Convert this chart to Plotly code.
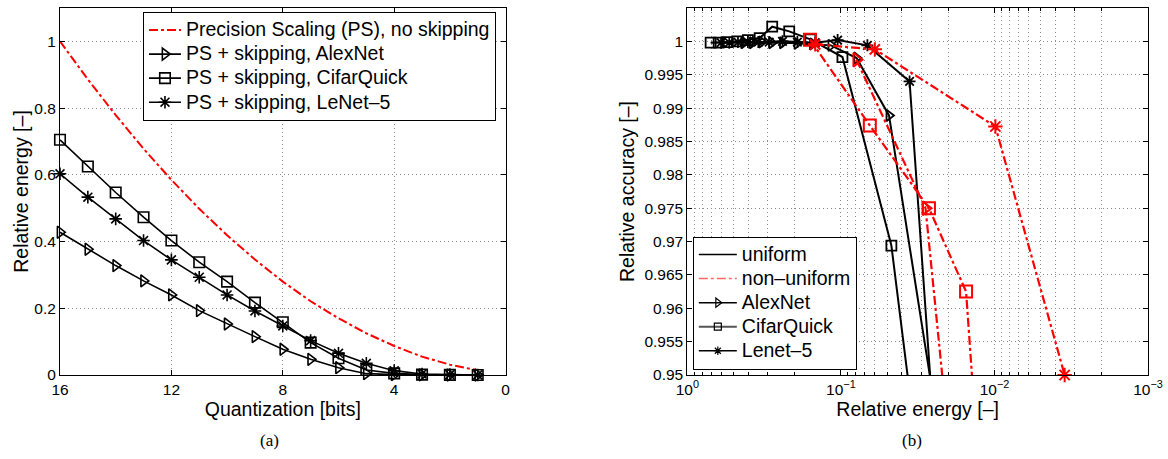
import plotly.graph_objects as go

# ---------------- data: panel (a) ----------------
bits = [16, 15, 14, 13, 12, 11, 10, 9, 8, 7, 6, 5, 4, 3, 2, 1]
ps_energy = [1.0, 0.886, 0.779, 0.678, 0.585, 0.498, 0.419, 0.346, 0.28, 0.221, 0.17, 0.125, 0.087, 0.055, 0.031, 0.014]
alexnet_energy = [0.428, 0.377, 0.328, 0.282, 0.24, 0.193, 0.153, 0.115, 0.077, 0.047, 0.022, 0.004, 0.001, 0.0003, 0.0001, 0.0001]
cifar_energy = [0.705, 0.625, 0.547, 0.473, 0.403, 0.338, 0.28, 0.217, 0.158, 0.097, 0.05, 0.015, 0.005, 0.001, 0.0003, 0.0001]
lenet_energy = [0.603, 0.533, 0.468, 0.403, 0.345, 0.293, 0.24, 0.192, 0.147, 0.103, 0.065, 0.035, 0.013, 0.003, 0.001, 0.0002]

# ---------------- data: panel (b) ----------------
alex_u_energy = [0.428, 0.377, 0.328, 0.282, 0.24, 0.193, 0.153, 0.116, 0.079, 0.0486, 0.025]
alex_u_acc = [0.9998, 0.9998, 0.9999, 0.9998, 0.9998, 0.9997, 0.9996, 0.9994, 0.9975, 0.9889, 0.9466]
cifar_u_energy = [0.705, 0.625, 0.547, 0.473, 0.403, 0.338, 0.28, 0.217, 0.158, 0.0977, 0.0469, 0.015]
cifar_u_acc = [0.9998, 0.9998, 0.9999, 1.0, 1.0002, 1.0005, 1.0022, 1.0015, 1.0003, 0.99765, 0.9694, 0.878]
lenet_u_energy = [0.603, 0.533, 0.468, 0.403, 0.345, 0.293, 0.24, 0.192, 0.147, 0.105, 0.0672, 0.0357, 0.012]
lenet_u_acc = [0.9998, 0.9998, 0.9999, 0.9999, 0.9999, 0.9999, 1.0, 0.9999, 0.9998, 1.0002, 0.9994, 0.994, 0.838]

alex_nu_energy = [0.0792, 0.0281, 0.02]
alex_nu_acc = [0.99725, 0.975, 0.941]
cifar_nu_energy = [0.159, 0.0648, 0.0267, 0.0153, 0.0135]
cifar_nu_acc = [1.00026, 0.9874, 0.975, 0.9625, 0.9447]
lenet_nu_energy = [0.147, 0.0601, 0.00986, 0.00349]
lenet_nu_acc = [0.99955, 0.9988, 0.98724, 0.95]

left_legend_names = ["Precision Scaling (PS), no skipping", "PS + skipping, AlexNet",
                     "PS + skipping, CifarQuick", "PS + skipping, LeNet\u20135"]
right_legend_names = ["uniform", "non\u2013uniform", "AlexNet", "CifarQuick", "Lenet\u20135"]

y_a_ticks = [0, 0.2, 0.4, 0.6, 0.8, 1.0]
y_a_labels = ["0", "0.2", "0.4", "0.6", "0.8", "1"]
x_a_ticks = [16, 12, 8, 4, 0]
y_b_ticks = [0.95, 0.955, 0.96, 0.965, 0.97, 0.975, 0.98, 0.985, 0.99, 0.995, 1.0]
y_b_labels = ["0.95", "0.955", "0.96", "0.965", "0.97", "0.975", "0.98", "0.985", "0.99", "0.995", "1"]
x_b_ticks = [1, 0.1, 0.01, 0.001]
x_b_labels = ["10<sup>0</sup>", "10<sup>\u22121</sup>", "10<sup>\u22122</sup>", "10<sup>\u22123</sup>"]

# ---------------- figure ----------------
FONT = "Liberation Sans, Arial, Helvetica, sans-serif"
SERIF = "Liberation Serif, Times New Roman, serif"
RED = "#ff0000"
BLACK = "#000000"
GRID = "#8c8c8c"
GRID_DASH = "1px,3px"
W, H = 1168, 459
ML, MR, MT, MB = 60, 19.7, 8, 84
PW = W - ML - MR
PH = H - MT - MB
LEG_TXT = 19.5


def px2x(px):
    return (px - ML) / PW


def py2y(py):
    return (H - MB - py) / PH


def big(t):
    return "<span style='font-size:%.1fpx'>%s</span>" % (LEG_TXT, t)


fig = go.Figure()

# panel (a)
fig.add_trace(go.Scatter(x=bits, y=ps_energy, mode="lines", name=big(left_legend_names[0]),
                         line=dict(color=RED, width=2, dash="dashdot"),
                         xaxis="x", yaxis="y", legend="legend", cliponaxis=False))
markers_a = [("triangle-right-open", alexnet_energy), ("square-open", cifar_energy), ("asterisk-open", lenet_energy)]
for name, (sym, vals) in zip(left_legend_names[1:], markers_a):
    fig.add_trace(go.Scatter(x=bits, y=vals, mode="lines+markers", name=big(name),
                             line=dict(color=BLACK, width=1.6),
                             marker=dict(symbol=sym, size=10.5, color=BLACK, line=dict(color=BLACK, width=1.6)),
                             xaxis="x", yaxis="y", legend="legend", cliponaxis=False))

# panel (b) - uniform (black, solid)
uni = [("triangle-right-open", alex_u_energy, alex_u_acc),
       ("square-open", cifar_u_energy, cifar_u_acc),
       ("asterisk-open", lenet_u_energy, lenet_u_acc)]
for sym, xs, ys in uni:
    fig.add_trace(go.Scatter(x=xs, y=ys, mode="lines+markers", showlegend=False,
                             line=dict(color=BLACK, width=2),
                             marker=dict(symbol=sym, size=10, color=BLACK, line=dict(color=BLACK, width=1.8)),
                             xaxis="x2", yaxis="y2", cliponaxis=False))
# panel (b) - non-uniform (red, dash-dot)
nonuni = [("triangle-right-open", alex_nu_energy, alex_nu_acc),
          ("square-open", cifar_nu_energy, cifar_nu_acc),
          ("asterisk-open", lenet_nu_energy, lenet_nu_acc)]
for sym, xs, ys in nonuni:
    fig.add_trace(go.Scatter(x=xs, y=ys, mode="lines+markers", showlegend=False,
                             line=dict(color=RED, width=2.2, dash="dashdot"),
                             marker=dict(symbol=sym, size=12, color=RED, line=dict(color=RED, width=2)),
                             xaxis="x2", yaxis="y2", cliponaxis=False))

# legend-only entries for panel (b)
leg_b = [
    dict(mode="lines", line=dict(color=BLACK, width=1.5)),
    dict(mode="lines", line=dict(color="#ff6666", width=1.5, dash="dashdot")),
    dict(mode="lines+markers", line=dict(color=BLACK, width=1.5),
         marker=dict(symbol="triangle-right-open", size=8, color=BLACK, line=dict(color=BLACK, width=1.2))),
    dict(mode="lines+markers", line=dict(color="#555555", width=2),
         marker=dict(symbol="square-open", size=7, color=BLACK, line=dict(color=BLACK, width=1.2))),
    dict(mode="lines+markers", line=dict(color=BLACK, width=1.5),
         marker=dict(symbol="asterisk-open", size=7, color=BLACK, line=dict(color=BLACK, width=1.2))),
]
for name, spec in zip(right_legend_names, leg_b):
    fig.add_trace(go.Scatter(x=[None], y=[None], name=big(name), xaxis="x2", yaxis="y2",
                             legend="legend2", showlegend=True, **spec))

grid = dict(showgrid=True, gridcolor=GRID, griddash=GRID_DASH, gridwidth=1)
axis_common = dict(showline=True, linecolor=BLACK, linewidth=1, mirror="ticks", ticks="inside",
                   ticklen=5, tickcolor=BLACK, zeroline=False, automargin=False,
                   tickfont=dict(family=FONT, size=15.5, color=BLACK), **grid)
title_font = dict(family=FONT, size=19.5, color=BLACK)
legend_common = dict(bgcolor="white", bordercolor=BLACK, borderwidth=1,
                     font=dict(family=FONT, size=16.2, color=BLACK), tracegroupgap=0)

fig.update_layout(
    width=W, height=H,
    margin=dict(l=ML, r=MR, t=MT, b=MB),
    paper_bgcolor="white", plot_bgcolor="white",
    font=dict(family=FONT, color=BLACK),
    xaxis=dict(domain=[0, px2x(505.7)], range=[16, 0], tickvals=x_a_ticks,
               title=dict(text="Quantization [bits]", font=title_font, standoff=4), anchor="y", **axis_common),
    yaxis=dict(domain=[0, 1], range=[0, 1.1], tickvals=y_a_ticks, ticktext=y_a_labels,
               title=dict(text="Relative energy [\u2013]", font=title_font, standoff=0), anchor="x", **axis_common),
    xaxis2=dict(domain=[px2x(687.5), 1], type="log", range=[0, -3], tickvals=x_b_ticks, ticktext=x_b_labels,
                minor=dict(dtick="D1", showgrid=True, gridcolor=GRID, griddash=GRID_DASH, ticks="inside",
                           ticklen=3, tickcolor=BLACK),
                title=dict(text="Relative energy [\u2013]", font=title_font, standoff=4), anchor="y2", **axis_common),
    yaxis2=dict(domain=[0, 1], range=[0.95, 1.005], tickvals=y_b_ticks, ticktext=y_b_labels,
                title=dict(text="Relative accuracy [\u2013]", font=title_font, standoff=4), anchor="x2", **axis_common),
    legend=dict(x=px2x(143), y=py2y(12), xanchor="left", yanchor="top", itemwidth=32, **legend_common),
    legend2=dict(x=px2x(693), y=py2y(369.5), xanchor="left", yanchor="bottom", itemwidth=38, **legend_common),
    annotations=[
        dict(text="(a)", x=px2x(270), y=py2y(440), xref="paper", yref="paper", showarrow=False,
             xanchor="center", yanchor="middle", font=dict(family=SERIF, size=17, color=BLACK)),
        dict(text="(b)", x=px2x(912), y=py2y(440), xref="paper", yref="paper", showarrow=False,
             xanchor="center", yanchor="middle", font=dict(family=SERIF, size=17, color=BLACK)),
    ],
    showlegend=True,
)

fig.write_html("out.html", config={"displayModeBar": False},
               post_script="document.body.style.margin='0px';document.body.style.overflow='hidden';")
